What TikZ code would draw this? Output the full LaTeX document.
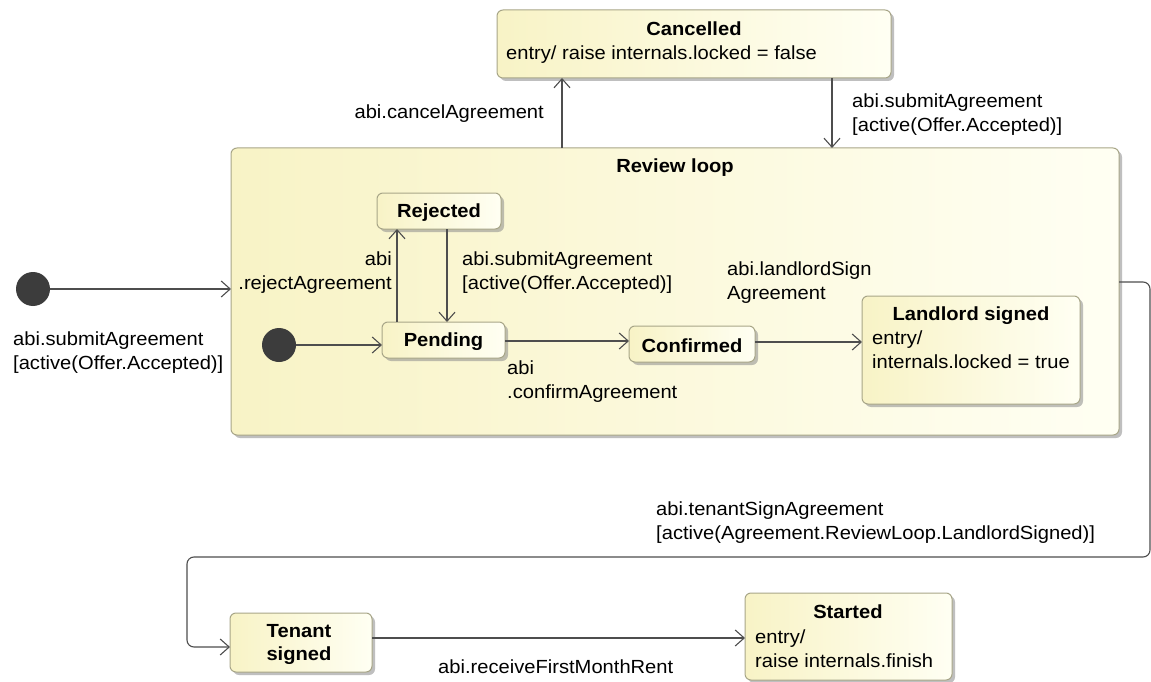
\documentclass[tikz,border=0pt]{standalone}
\usepackage{fontspec}
\setmainfont{Liberation Sans}[FakeStretch=1.06]
\usetikzlibrary{arrows.meta,shadows}

\definecolor{boxedge}{HTML}{A8A688}
\definecolor{boxleft}{HTML}{F8F3C6}
\definecolor{boxright}{HTML}{FFFFF3}
\definecolor{wire}{HTML}{4E4E4E}
\definecolor{dotfill}{HTML}{3C3C3C}

\tikzset{
  statebox/.style={draw=boxedge, line width=1pt, rounded corners=6pt,
    left color=boxleft, right color=boxright, inner sep=0pt, outer sep=0pt,
    anchor=north west,
    drop shadow={shadow xshift=3pt, shadow yshift=-3pt, fill=black!45, opacity=0.55}},
  conn/.style={draw=wire, line width=1.1pt, -{Straight Barb[length=9pt,width=16pt]}},
  initdot/.style={circle, fill=dotfill, minimum size=34pt, inner sep=0pt},
  lbl/.style={font=\fontsize{19}{24}\selectfont, inner sep=0pt, align=left, text=black, yshift=-2pt},
  ttl/.style={font=\bfseries\fontsize{19}{24}\selectfont, inner sep=0pt, align=center, text=black, yshift=-2pt}
}

\begin{document}
\begin{tikzpicture}[x=1pt,y=-1pt]
  \useasboundingbox[fill=white] (0,0) rectangle (1151,682);

  % composite state and plain states
  \node[statebox, minimum width=394pt, minimum height=68pt] (cancel) at (497,10) {};
  \node[statebox, minimum width=888pt, minimum height=287pt] (review) at (231,148) {};
  \node[statebox, minimum width=124pt, minimum height=36pt] (rejected) at (377,193) {};
  \node[statebox, minimum width=123pt, minimum height=36pt] (pending) at (382,322) {};
  \node[statebox, minimum width=126pt, minimum height=36pt] (confirmed) at (629,326) {};
  \node[statebox, minimum width=218pt, minimum height=108pt] (landlord) at (862,296) {};
  \node[statebox, minimum width=142pt, minimum height=59pt] (tenant) at (230,613) {};
  \node[statebox, minimum width=207pt, minimum height=87pt] (started) at (745,593) {};

  % state texts
  \node[ttl] (cancelT) at (694,27) {Cancelled};
  \node[lbl, anchor=west] (cancelB) at (506,53) {entry/ raise internals.locked = false};
  \node[ttl] (reviewT) at (675,166) {Review loop};
  \node[ttl] (rejectedT) at (rejected.center) {Rejected};
  \node[ttl] (pendingT) at (pending.center) {Pending};
  \node[ttl] (confirmedT) at (confirmed.center) {Confirmed};
  \node[ttl] (landlordT) at (971,314) {Landlord signed};
  \node[lbl, anchor=north west] (landlordB) at (872,329) {entry/\\internals.locked = true};
  \node[ttl, font=\bfseries\fontsize{19}{23}\selectfont] (tenantT) at (299,642) {Tenant\\signed};
  \node[ttl] (startedT) at (848,610) {Started};
  \node[lbl, anchor=north west] (startedB) at (755,628) {entry/\\raise internals.finish};

  % pseudo states
  \node[initdot] (init0) at (33,289) {};
  \node[initdot] (init1) at (279,345) {};

  % helper positions for straight connectors
  \coordinate (xc1) at (562,0);
  \coordinate (xc2) at (832,0);
  \coordinate (xr1) at (397,0);
  \coordinate (xr2) at (447,0);
  \coordinate (yc1) at (0,341);
  \coordinate (yc2) at (0,342);
  \coordinate (yts) at (0,638);
  \coordinate (loopA) at (1150,282);
  \coordinate (loopB) at (1150,557);
  \coordinate (loopC) at (187,557);
  \coordinate (loopD) at (187,647);

  % transitions
  \draw[conn] (init0) -- (review.west |- init0);
  \draw[conn] (review.north -| xc1) -- (cancel.south -| xc1);
  \draw[conn] (cancel.south -| xc2) -- (review.north -| xc2);
  \draw[conn] (init1) -- (pending.west |- init1);
  \draw[conn] (pending.north -| xr1) -- (rejected.south -| xr1);
  \draw[conn] (rejected.south -| xr2) -- (pending.north -| xr2);
  \draw[conn] (pending.east |- yc1) -- (confirmed.west |- yc1);
  \draw[conn] (confirmed.east |- yc2) -- (landlord.west |- yc2);
  \draw[conn, rounded corners=7pt] (review.east |- loopA) -- (loopA) -- (loopB) -- (loopC) -- (loopD) -- (tenant.west |- loopD);
  \draw[conn] (tenant.east |- yts) -- (started.west |- yts);

  % transition labels
  \node[lbl, anchor=east] (lCancel) at (544,112) {abi.cancelAgreement};
  \node[lbl, anchor=north west] (lResubmit) at (852,92) {abi.submitAgreement\\{}[active(Offer.Accepted)]};
  \node[lbl, anchor=north west] (lSubmit) at (13,330) {abi.submitAgreement\\{}[active(Offer.Accepted)]};
  \node[lbl, anchor=north east, align=right] (lReject) at (392,250) {abi\\.rejectAgreement};
  \node[lbl, anchor=north west] (lBack) at (462,250) {abi.submitAgreement\\{}[active(Offer.Accepted)]};
  \node[lbl, anchor=north west] (lConfirm) at (507,359) {abi\\.confirmAgreement};
  \node[lbl, anchor=north west] (lLandlord) at (727,260) {abi.landlordSign\\Agreement};
  \node[lbl, anchor=north west] (lTenant) at (656,500) {abi.tenantSignAgreement\\{}[active(Agreement.ReviewLoop.LandlordSigned)]};
  \node[lbl, anchor=west] (lRent) at (438,665) {abi.receiveFirstMonthRent};
\end{tikzpicture}
\end{document}
